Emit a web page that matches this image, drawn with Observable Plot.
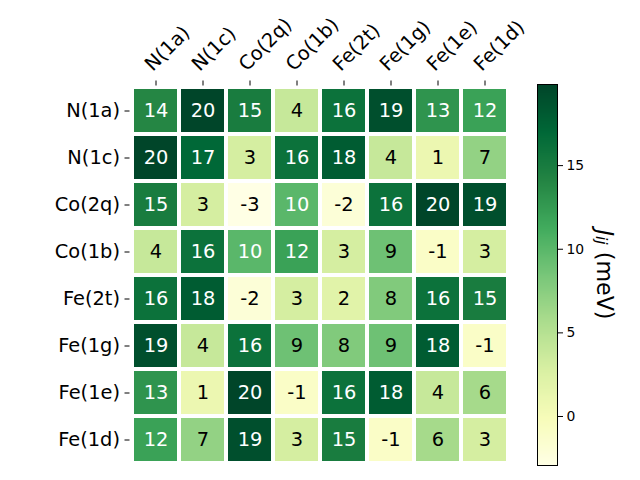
<!DOCTYPE html>
<html>
<head>
<meta charset="utf-8">
<script src="https://cdn.jsdelivr.net/npm/d3@7"></script>
<script src="https://cdn.jsdelivr.net/npm/@observablehq/plot@0.6"></script>
<style>
  body { margin: 0; background: #fff; }
  #wrap { position: relative; width: 640px; height: 480px; font-family: "DejaVu Sans", sans-serif; }
  #wrap svg { position: absolute; top: 0; }
</style>
</head>
<body>
<div id="wrap"></div>
<script>
const rowLabels = ["N(1a)", "N(1c)", "Co(2q)", "Co(1b)", "Fe(2t)", "Fe(1g)", "Fe(1e)", "Fe(1d)"];
const colLabels = ["N(1a)", "N(1c)", "Co(2q)", "Co(1b)", "Fe(2t)", "Fe(1g)", "Fe(1e)", "Fe(1d)"];
const row0 = [14, 20, 15, 4, 16, 19, 13, 12];
const row1 = [20, 17, 3, 16, 18, 4, 1, 7];
const row2 = [15, 3, -3, 10, -2, 16, 20, 19];
const row3 = [4, 16, 10, 12, 3, 9, -1, 3];
const row4 = [16, 18, -2, 3, 2, 8, 16, 15];
const row5 = [19, 4, 16, 9, 8, 9, 18, -1];
const row6 = [13, 1, 20, -1, 16, 18, 4, 6];
const row7 = [12, 7, 19, 3, 15, -1, 6, 3];
const matrix = [row0, row1, row2, row3, row4, row5, row6, row7];
const colorMin = -2.93, colorMax = 19.85;
const cbarTicks = [0, 5, 10, 15];
const ylgn = ["#ffffe5", "#f7fcb9", "#d9f0a3", "#addd8e", "#78c679", "#41ab5d", "#238443", "#006837", "#004529"];

const table = [];
matrix.forEach((r, i) => r.forEach((v, j) => table.push({row: rowLabels[i], col: colLabels[j], v})));

const colorOpts = {
  type: "linear",
  domain: ylgn.map((_, k) => colorMin + (colorMax - colorMin) * k / (ylgn.length - 1)),
  range: ylgn,
  clamp: true
};

const font = "DejaVu Sans, sans-serif";
const fs = 19.4;

const main = Plot.plot({
  width: 640, height: 480,
  marginLeft: 129.5, marginRight: 130.5, marginTop: 84.5, marginBottom: 15.5,
  style: {fontFamily: font, background: "transparent", overflow: "visible"},
  x: {domain: colLabels, padding: 0},
  y: {domain: rowLabels, padding: 0},
  color: colorOpts,
  marks: [
    Plot.cell(table, {x: "col", y: "row", fill: "v", inset: 2}),
    Plot.text(table.filter(d => d.v > 9.5), {x: "col", y: "row", text: d => String(d.v), fill: "white", fontSize: fs}),
    Plot.text(table.filter(d => d.v <= 9.5), {x: "col", y: "row", text: d => String(d.v), fill: "black", fontSize: fs}),
    Plot.axisY({anchor: "left", label: null, tickSize: 5, tickPadding: 5, fontSize: fs, color: "black"}),
    Plot.axisX({anchor: "top", label: null, tickSize: 5, tickFormat: () => "", color: "black"}),
    Plot.text(colLabels, {x: d => d, text: d => d, frameAnchor: "top", rotate: -45, textAnchor: "start", lineAnchor: "bottom", dx: -3.2, dy: -13, fontSize: fs, fill: "black"})
  ]
});
main.style.left = "0px";
document.getElementById("wrap").appendChild(main);

const cbar = Plot.plot({
  width: 110, height: 480,
  marginLeft: 7, marginRight: 83, marginTop: 84, marginBottom: 15,
  style: {fontFamily: font, background: "transparent", overflow: "visible"},
  x: {domain: [0, 1], axis: null},
  y: {domain: [colorMin, colorMax]},
  color: colorOpts,
  marks: [
    Plot.raster({x1: 0, x2: 1, y1: colorMin, y2: colorMax, width: 1, height: 400, fill: (x, y) => y, imageRendering: "auto"}),
    Plot.frame({stroke: "black", strokeWidth: 1}),
    Plot.axisY({anchor: "right", ticks: cbarTicks, tickFormat: d => String(d), label: null, tickSize: 5, tickPadding: 4, fontSize: 13.9, color: "black"})
  ]
});
cbar.style.left = "530px";
document.getElementById("wrap").appendChild(cbar);

// colorbar label
const svg = d3.select(cbar);
const lab = svg.append("text")
  .attr("transform", "translate(75,274.5) rotate(90)")
  .attr("text-anchor", "middle")
  .attr("dominant-baseline", "central")
  .attr("font-family", font)
  .attr("font-size", 22.2)
  .attr("fill", "black");
lab.append("tspan").attr("font-style", "italic").text("J");
lab.append("tspan").attr("font-style", "italic").attr("font-size", 15.5).attr("dy", 4).text("ij");
lab.append("tspan").attr("dy", -4).text(" (meV)");
</script>
</body>
</html>
